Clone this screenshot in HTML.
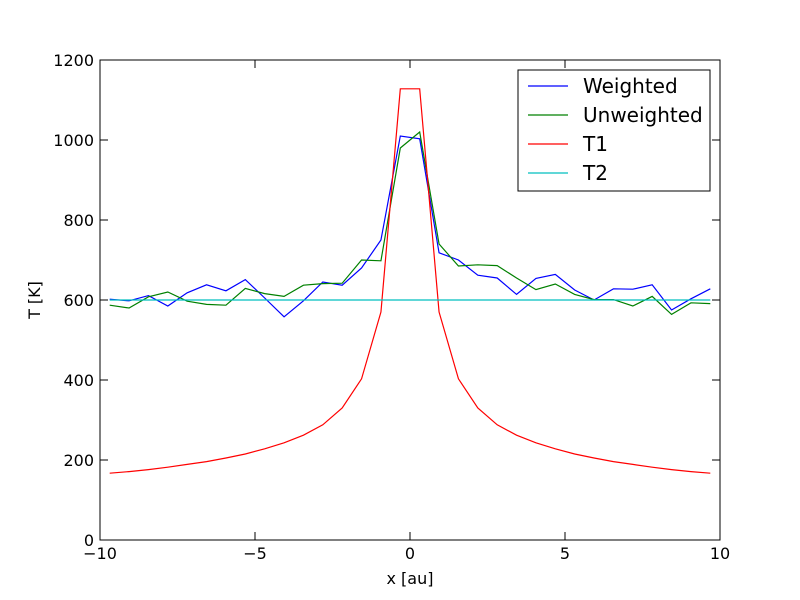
<!DOCTYPE html>
<html><head><meta charset="utf-8"><style>body{margin:0;background:#fff}svg{display:block;font-family:"DejaVu Sans","Liberation Sans",sans-serif}</style></head>
<body>
<svg id="chart" width="800" height="600">
<rect width="800" height="600" fill="#fff"/>
<g id="marks"></g>
<rect x="100" y="60" width="620" height="480" fill="none" stroke="#000" stroke-width="1"/>
<g id="axes"></g>
<text x="410" y="584" font-size="16" text-anchor="middle">x [au]</text>
<text x="40" y="300" font-size="16" text-anchor="middle" transform="rotate(-90 40 300)">T [K]</text>
<g>
<rect x="518" y="70" width="192" height="121" fill="#fff" stroke="#000"/>
<g id="legend"></g>
</g>
</svg>
<script>
const xs=[-9.6875,-9.0625,-8.4375,-7.8125,-7.1875,-6.5625,-5.9375,-5.3125,-4.6875,-4.0625,-3.4375,-2.8125,-2.1875,-1.5625,-0.9375,-0.3125,0.3125,0.9375,1.5625,2.1875,2.8125,3.4375,4.0625,4.6875,5.3125,5.9375,6.5625,7.1875,7.8125,8.4375,9.0625,9.6875];
const weighted=[602,598,611,585,618,638,623,651,605,558,598,645,637,680,750,1010,1003,718,700,662,655,614,654,664,625,600,628,627,638,575,603,628];
const unweighted=[587,580,608,620,597,589,587,629,616,609,637,641,642,700,698,980,1020,740,685,688,686,655,626,640,614,601,601,585,609,564,593,591];
const t1=[167,171,176,182,189,196,205,215,228,243,262,288,330,403,570,1128,1128,570,403,330,288,262,243,228,215,205,196,189,182,176,171,167];
const t2=[600,600,600,600,600,600,600,600,600,600,600,600,600,600,600,600,600,600,600,600,600,600,600,600,600,600,600,600,600,600,600,600];
const xTicks=[-10,-5,0,5,10];
const xTickLabels=["\u221210","\u22125","0","5","10"];
const yTicks=[0,200,400,600,800,1000,1200];
const series=[["Weighted",weighted,"#0000ff"],["Unweighted",unweighted,"#008000"],["T1",t1,"#ff0000"],["T2",t2,"#00bfbf"]];
const X=v=>100+(v+10)*31, Y=v=>540-v*0.4;
const NS="http://www.w3.org/2000/svg";
function mk(t,a,p){const e=document.createElementNS(NS,t);for(const k in a)e.setAttribute(k,a[k]);p.appendChild(e);return e;}
const marks=document.getElementById('marks'),axes=document.getElementById('axes'),leg=document.getElementById('legend');
series.forEach(([n,d,c],i)=>{
 const p=mk('polyline',{points:d.map((v,j)=>X(xs[j])+','+Y(v)).join(' '),fill:'none',stroke:c,'stroke-width':1.2},marks);
 
 
 const y=86+i*29;
 const l=mk('line',{x1:528,x2:568,y1:y,y2:y,stroke:c,'stroke-width':1.2},leg);
 
 
 const t=mk('text',{x:583,y:y+7,'font-size':20},leg);t.textContent=n;
 
 
});
xTicks.forEach((v,i)=>{
 const x=X(v);
 mk('line',{x1:x,x2:x,y1:540,y2:532,stroke:'#000'},axes);
 mk('line',{x1:x,x2:x,y1:60,y2:68,stroke:'#000'},axes);
 const t=mk('text',{x:x,y:559,'font-size':16,'text-anchor':'middle'},axes);t.textContent=xTickLabels[i];
 
 
});
yTicks.forEach(v=>{
 const y=Y(v);
 mk('line',{x1:100,x2:108,y1:y,y2:y,stroke:'#000'},axes);
 mk('line',{x1:712,x2:720,y1:y,y2:y,stroke:'#000'},axes);
 const t=mk('text',{x:94,y:y+6,'font-size':16,'text-anchor':'end'},axes);t.textContent=v;
 
 
});
</script>
</body></html>
